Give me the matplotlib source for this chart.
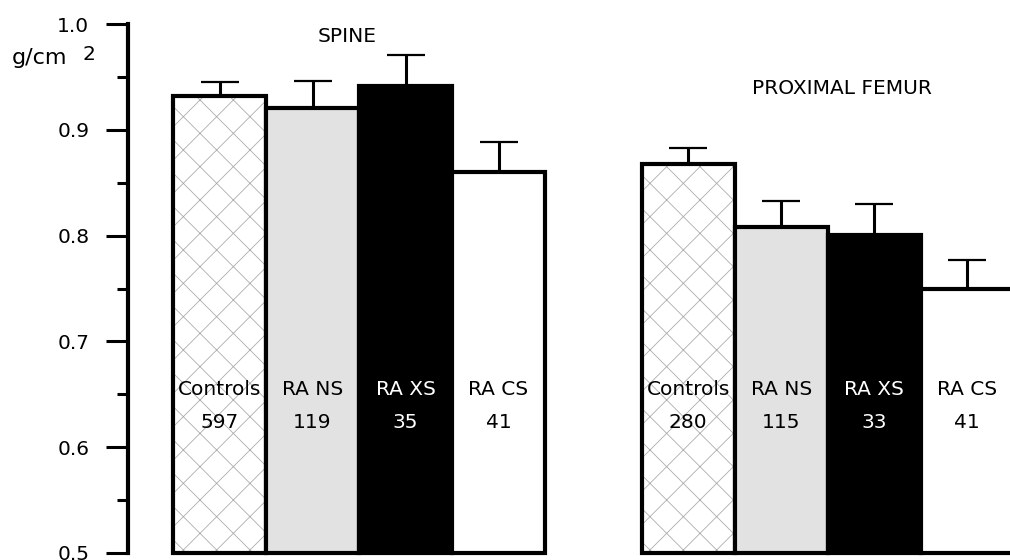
import matplotlib
matplotlib.use("Agg")
import matplotlib.pyplot as plt
import numpy as np

plt.rcParams['font.family'] = ['DejaVu Sans']
plt.rcParams['hatch.linewidth'] = 0.6

# ---- data ----
groups = ["SPINE", "PROXIMAL FEMUR"]
categories = ["Controls", "RA NS", "RA XS", "RA CS"]
spine_means = [0.932, 0.921, 0.941, 0.860]
spine_upper = [0.945, 0.946, 0.971, 0.888]
spine_n = ["597", "119", "35", "41"]
femur_means = [0.868, 0.808, 0.801, 0.750]
femur_upper = [0.883, 0.833, 0.830, 0.777]
femur_n = ["280", "115", "33", "41"]
yticks = [0.5, 0.6, 0.7, 0.8, 0.9, 1.0]

# ---- styles ----
faces = ["white", "#e2e2e2", "black", "white"]
hatches = ["x", None, None, None]
textcol = ["black", "black", "white", "black"]
FS = 14.5

fig = plt.figure(figsize=(10.10, 5.60), dpi=100)
ax = fig.add_axes([128/1010, (560-553)/560, 1 - 128/1010, (553-24)/560])

group_offsets = [0.0, 5.04]
width = 1.0
all_means = [spine_means, femur_means]
all_upper = [spine_upper, femur_upper]
all_n = [spine_n, femur_n]
title_pos = [(1.87, 0.988), (7.19, 0.9386)]

for g, off in enumerate(group_offsets):
    xs = off + np.arange(len(categories)) + width / 2
    means = np.array(all_means[g])
    upper = np.array(all_upper[g])
    bars = ax.bar(xs, means - 0.5, width=width, bottom=0.5, color=faces,
                  edgecolor="black", linewidth=3, clip_on=False, zorder=2)
    for b, h in zip(bars, hatches):
        if h:
            b.set_hatch(h)
            b._hatch_color = (0.68, 0.68, 0.68, 1.0)
    ax.errorbar(xs, means, yerr=[np.zeros_like(means), upper - means],
                fmt="none", ecolor="black", elinewidth=2.2, capsize=13.5,
                capthick=1.6, clip_on=False, zorder=3)
    for i, c in enumerate(categories):
        ax.text(xs[i], 0.655, c, ha="center", va="center", fontsize=FS,
                color=textcol[i], zorder=4, clip_on=False)
        ax.text(xs[i], 0.623, all_n[g][i], ha="center", va="center",
                fontsize=FS, color=textcol[i], zorder=4, clip_on=False)
    ax.text(title_pos[g][0], title_pos[g][1], groups[g], ha="center",
            va="center", fontsize=FS)

ax.set_xlim(-0.484, 9.0)
ax.set_ylim(0.5, 1.0)
ax.set_yticks(yticks)
ax.set_yticklabels([f"{v:.1f}" for v in yticks], fontsize=FS)
ax.set_yticks(np.array(yticks[:-1]) + 0.05, minor=True)
ax.tick_params(axis="y", which="major", length=15.8, width=2.2, pad=12,
               direction="out")
ax.tick_params(axis="y", which="minor", length=8, width=2.2, direction="out")
ax.set_xticks([])
for s in ["top", "right", "bottom"]:
    ax.spines[s].set_visible(False)
ax.spines["left"].set_linewidth(3)
ax.patch.set_visible(False)

fig.text(12/1010, 1 - 64/560, "g/cm", fontsize=16, ha="left", va="baseline")
fig.text(83/1010, 1 - 60/560, "2", fontsize=FS, ha="left", va="baseline")

fig.savefig("out.png", dpi=100)
